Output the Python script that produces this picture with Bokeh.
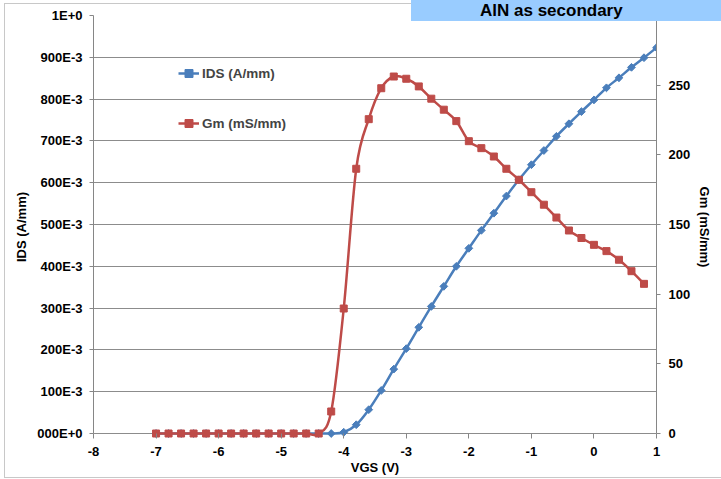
from bokeh.plotting import figure
from bokeh.layouts import column
from bokeh.models import (Range1d, LinearAxis, FixedTicker, Legend, LegendItem, Div)
from bokeh.embed import file_html
from bokeh.resources import INLINE

# ---------------- data ----------------
vgs_ids = [-7.0, -6.8, -6.6, -6.4, -6.2, -6.0, -5.8, -5.6, -5.4, -5.2, -5.0, -4.8, -4.6, -4.4,
           -4.2, -4.0, -3.8, -3.6, -3.4, -3.2, -3.0, -2.8, -2.6, -2.4, -2.2, -2.0, -1.8, -1.6,
           -1.4, -1.2, -1.0, -0.8, -0.6, -0.4, -0.2, 0.0, 0.2, 0.4, 0.6, 0.8, 1.0]
ids = [0, 0, 0, 0, 0, 0, 0, 0, 0, 0, 0, 0, 0, 0,
       0.000, 0.003, 0.021, 0.057, 0.103, 0.154, 0.203, 0.254, 0.304, 0.352, 0.400, 0.443,
       0.486, 0.527, 0.568, 0.607, 0.643, 0.677, 0.711, 0.741, 0.770, 0.798, 0.827, 0.851,
       0.876, 0.899, 0.923]

vgs_gm = [-7.0, -6.8, -6.6, -6.4, -6.2, -6.0, -5.8, -5.6, -5.4, -5.2, -5.0, -4.8, -4.6, -4.4,
          -4.2, -4.0, -3.8, -3.6, -3.4, -3.2, -3.0, -2.8, -2.6, -2.4, -2.2, -2.0, -1.8, -1.6,
          -1.4, -1.2, -1.0, -0.8, -0.6, -0.4, -0.2, 0.0, 0.2, 0.4, 0.6, 0.8]
gm = [0, 0, 0, 0, 0, 0, 0, 0, 0, 0, 0, 0, 0, 0,
      15.8, 89.7, 190.0, 225.6, 247.8, 256.2, 254.6, 249.1, 240.3, 232.4, 224.2, 209.8,
      204.8, 198.8, 190.0, 182.1, 173.2, 164.2, 155.0, 145.7, 140.3, 135.4, 130.9, 124.7,
      116.5, 107.4]

x_ticks = [-8, -7, -6, -5, -4, -3, -2, -1, 0, 1]
x_tick_labels = ["-8", "-7", "-6", "-5", "-4", "-3", "-2", "-1", "0", "1"]
left_ticks = [0, 0.1, 0.2, 0.3, 0.4, 0.5, 0.6, 0.7, 0.8, 0.9, 1.0]
left_tick_labels = ["000E+0", "100E-3", "200E-3", "300E-3", "400E-3", "500E-3",
                    "600E-3", "700E-3", "800E-3", "900E-3", "1E+0"]
right_ticks = [0, 50, 100, 150, 200, 250]

series_names = ["IDS (A/mm)", "Gm (mS/mm)"]
x_title = "VGS (V)"
y_title = "IDS (A/mm)"
y2_title = "Gm (mS/mm)"
banner_text = "AlN as secondary"

BLUE = "#4A7EBB"
RED = "#BE4B48"
GRID = "#8c8c8c"
AXIS = "#868686"
FONT = "Liberation Sans"


def smooth(xs, ys):
    """Bezier control points for an Excel-like smoothed line."""
    n = len(xs)
    d = dict(x0=[], y0=[], x1=[], y1=[], cx0=[], cy0=[], cx1=[], cy1=[])
    for i in range(n - 1):
        a = i - 1 if i > 0 else i
        b = i + 2 if i + 2 < n else i + 1
        d["x0"].append(xs[i]); d["y0"].append(ys[i])
        d["x1"].append(xs[i + 1]); d["y1"].append(ys[i + 1])
        d["cx0"].append(xs[i] + (xs[i + 1] - xs[a]) / 6)
        d["cy0"].append(ys[i] + (ys[i + 1] - ys[a]) / 6)
        d["cx1"].append(xs[i + 1] - (xs[b] - xs[i]) / 6)
        d["cy1"].append(ys[i + 1] - (ys[b] - ys[i]) / 6)
    return d


pad = 5 / 418.0
fig = figure(width=721, height=479, output_backend="svg", toolbar_location=None,
             x_range=Range1d(-8, 1), y_range=Range1d(-pad, 1.0),
             min_border_left=93, min_border_right=65, min_border_top=15,
             min_border_bottom=41)
fig.extra_y_ranges = {"gm": Range1d(-pad * 300, 300)}
fig.outline_line_color = None
fig.background_fill_color = "white"
fig.border_fill_color = "white"

# grid
fig.xgrid.visible = False
fig.ygrid.ticker = FixedTicker(ticks=left_ticks)
fig.ygrid.grid_line_color = GRID
fig.ygrid.grid_line_width = 1

# left axis
la = fig.yaxis[0]
la.ticker = FixedTicker(ticks=left_ticks)
la.major_label_overrides = {t: s for t, s in zip(left_ticks, left_tick_labels)}
la.bounds = (0, 1)
la.axis_label = y_title

# bottom axis
ba = fig.xaxis[0]
ba.ticker = FixedTicker(ticks=x_ticks)
ba.major_label_overrides = {t: s for t, s in zip(x_ticks, x_tick_labels)}
ba.axis_label = x_title
ba.axis_line_color = None
ba.major_tick_in = 5
ba.major_tick_out = 0
ba.major_label_standoff = 8
ba.axis_label_standoff = 1

# right axis
ra = LinearAxis(y_range_name="gm", ticker=FixedTicker(ticks=right_ticks),
                bounds=(0, 300), axis_label=y2_title)
fig.add_layout(ra, "right")

for ax in (la, ba, ra):
    ax.minor_tick_line_color = None
    ax.major_tick_line_color = AXIS
    ax.major_label_text_font = FONT
    ax.major_label_text_font_style = "bold"
    ax.major_label_text_font_size = "13px"
    ax.major_label_text_color = "black"
    ax.axis_label_text_font = FONT
    ax.axis_label_text_font_style = "bold"
    ax.axis_label_text_font_size = "13px"
    ax.axis_label_text_color = "black"
for ax in (la, ra):
    ax.axis_line_color = AXIS
    ax.major_tick_in = 0
    ax.major_tick_out = 4
la.major_label_standoff = 7
la.axis_label_standoff = 5
ra.major_label_standoff = 8
ra.axis_label_standoff = 4

# series
b1 = fig.bezier(line_color=BLUE, line_width=2.5, **smooth(vgs_ids, ids))
s1 = fig.scatter(vgs_ids, ids, marker="square", angle=0.785398, size=5.5,
                 fill_color=BLUE, line_color=BLUE)
b2 = fig.bezier(line_color=RED, line_width=2.5, y_range_name="gm", **smooth(vgs_gm, gm))
s2 = fig.scatter(vgs_gm, gm, marker="square", size=7, fill_color=RED, line_color=RED,
                 y_range_name="gm")

legend = Legend(items=[LegendItem(label=series_names[0], renderers=[b1, s1]),
                       LegendItem(label=series_names[1], renderers=[b2, s2])],
                location=(85, 305), margin=0, padding=0, spacing=30,
                label_height=20, glyph_height=20, glyph_width=21, label_standoff=3,
                background_fill_alpha=0, border_line_alpha=0,
                label_text_font=FONT, label_text_font_style="bold",
                label_text_font_size="13.5px")
fig.add_layout(legend, "center")

# chart chrome: outer border and the blue banner strip at the top
border = Div(text="", width=717, height=475, margin=0,
             styles={"position": "absolute", "left": "4px", "top": "3px",
                     "width": "717px", "height": "475px", "box-sizing": "border-box",
                     "border": "1px solid #c8c8c8", "border-right": "none",
                     "margin": "0px", "pointer-events": "none", "z-index": "1"})
banner = Div(text=banner_text, width=310, height=21, margin=0,
             styles={"position": "absolute", "left": "411px", "top": "0px",
                     "width": "310px", "height": "21px", "box-sizing": "border-box",
                     "background-color": "#99CCFF", "color": "black", "margin": "0px",
                     "font-family": FONT, "font-weight": "bold", "font-size": "17px",
                     "line-height": "21px", "padding-left": "69px",
                     "overflow": "hidden", "white-space": "nowrap", "z-index": "2"})

p = column(fig, border, banner, spacing=0)

open("out.html", "w").write(file_html(p, INLINE))
